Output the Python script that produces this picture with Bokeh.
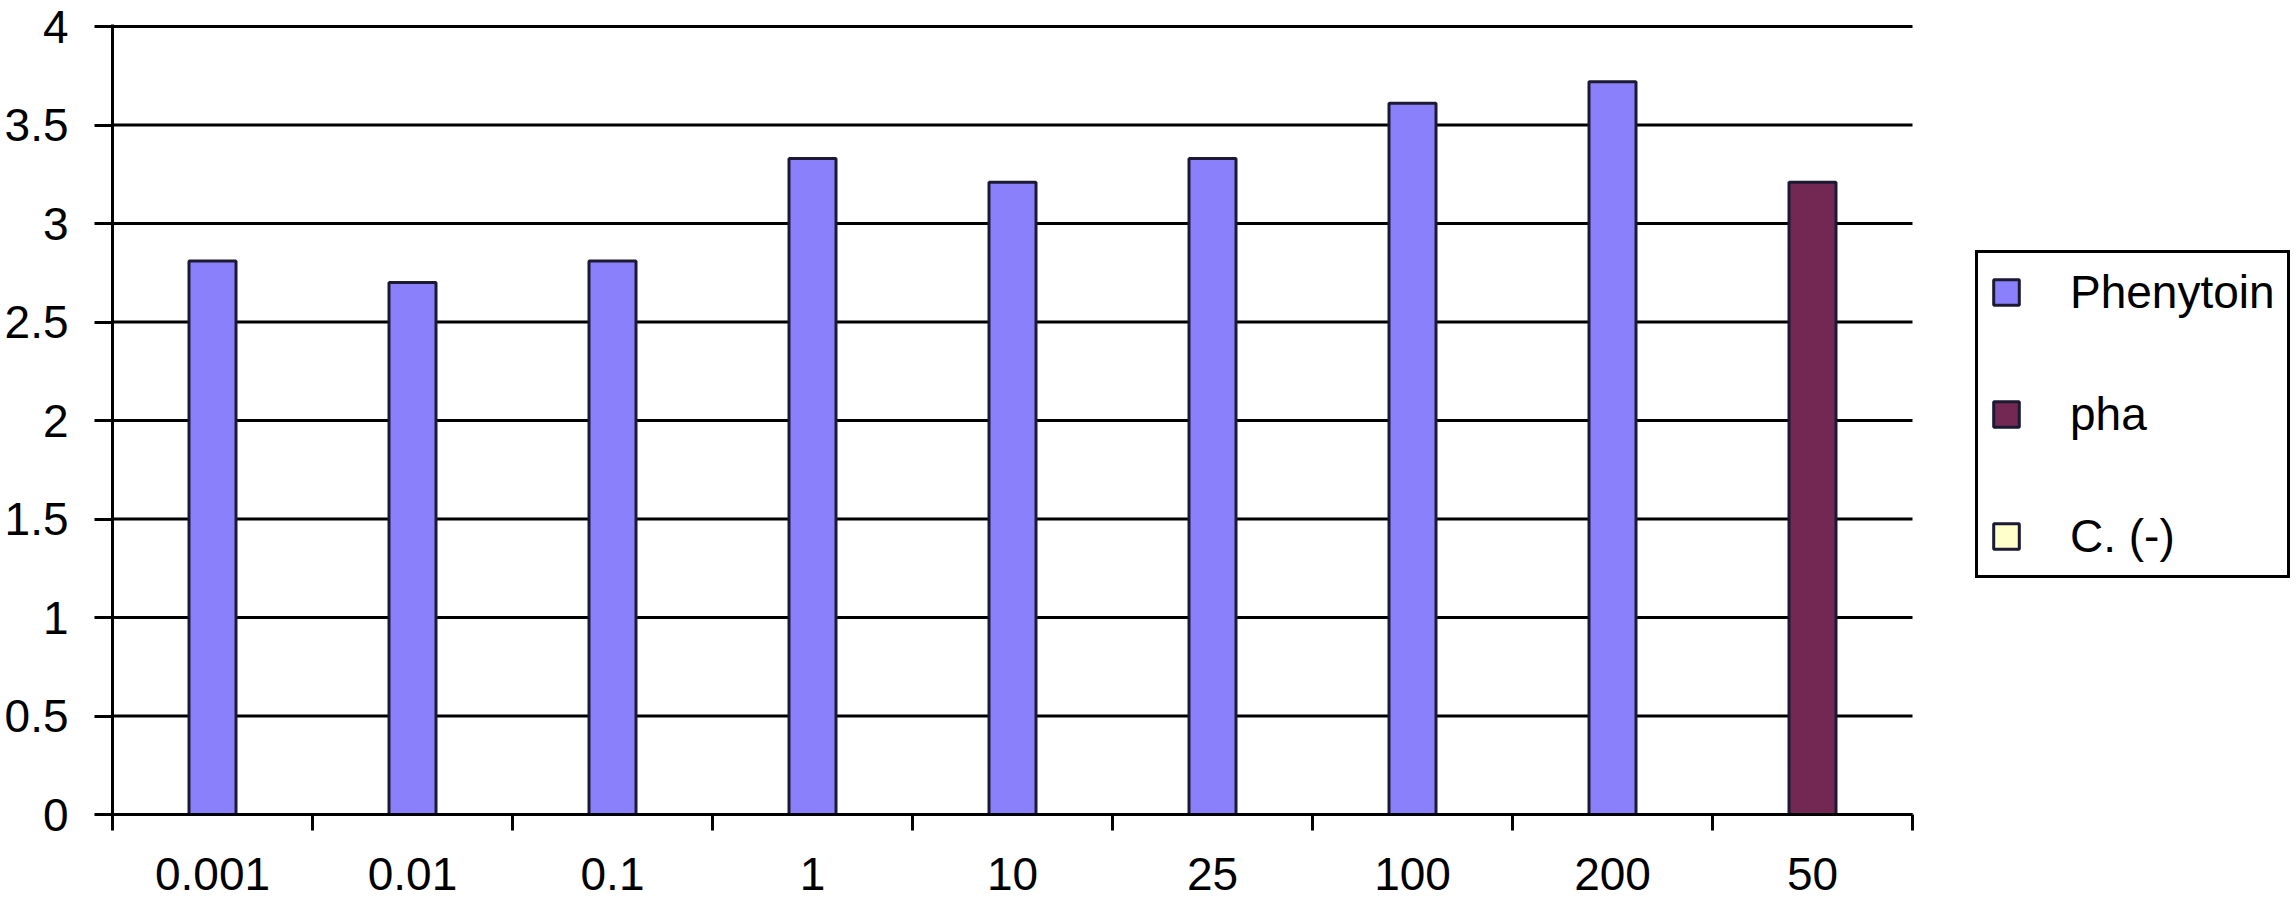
from bokeh.plotting import figure
from bokeh.models import Range1d, FixedTicker, Legend, LegendItem, ColumnDataSource
from bokeh.embed import file_html
from bokeh.resources import INLINE

categories = ["0.001", "0.01", "0.1", "1", "10", "25", "100", "200", "50"]
phenytoin = [2.81, 2.70, 2.81, 3.33, 3.21, 3.33, 3.61, 3.72]
pha = [3.21]
c_neg = [float("nan")]  # legend-only series, no visible bar
y_ticks = [0, 0.5, 1, 1.5, 2, 2.5, 3, 3.5, 4]
y_tick_labels = ["0", "0.5", "1", "1.5", "2", "2.5", "3", "3.5", "4"]

FONT = "Liberation Sans"
FS = "46px"

n = len(categories)
centers = [i + 0.5 for i in range(n)]

W, H = 2296, 904
left, top_b, bottom_b = 112, 24, 90
px_per_cat = 200.0
x_end = (W - left) / px_per_cat

p = figure(width=W, height=H, output_backend="svg", toolbar_location=None,
           x_range=Range1d(0, x_end), y_range=Range1d(0, 4.0102),
           min_border_left=left, min_border_right=0, min_border_top=top_b,
           min_border_bottom=bottom_b)
p.outline_line_color = None
p.background_fill_color = "white"
p.border_fill_color = "white"

# horizontal gridlines only across the category area
p.segment(x0=0, x1=n, y0=y_ticks, y1=y_ticks, line_color="black", line_width=3,
          level="underlay")

src_p = ColumnDataSource(dict(x=centers[:len(phenytoin)], top=phenytoin))
src_h = ColumnDataSource(dict(x=centers[len(phenytoin):len(phenytoin) + len(pha)], top=pha))
src_c = ColumnDataSource(dict(x=centers[-len(c_neg):], top=c_neg))

bw = 0.235
r1 = p.vbar(x="x", top="top", bottom=0, width=bw, source=src_p,
            fill_color="#8B80FB", line_color="#1C1A33", line_width=3)
r2 = p.vbar(x="x", top="top", bottom=0, width=bw, source=src_h,
            fill_color="#722853", line_color="#1C1A33", line_width=3)
r3 = p.vbar(x="x", top="top", bottom=0, width=bw, source=src_c,
            fill_color="#FFFFCC", line_color="#1C1A33", line_width=3)

# x axis: labels at category centres, boundary ticks as minor ticks
xa = p.xaxis[0]
xa.bounds = (0, n)
xa.ticker = FixedTicker(ticks=centers, minor_ticks=list(range(n + 1)))
xa.major_label_overrides = {c: lab for c, lab in zip(centers, categories)}
xa.major_tick_line_color = None
xa.major_tick_out = 0
xa.major_tick_in = 0
xa.minor_tick_line_color = "black"
xa.minor_tick_line_width = 3
xa.minor_tick_out = 16
xa.minor_tick_in = 0
xa.axis_line_color = "black"
xa.axis_line_width = 3
xa.major_label_standoff = 27
xa.major_label_text_font = FONT
xa.major_label_text_font_size = FS
xa.major_label_text_color = "black"

ya = p.yaxis[0]
ya.ticker = FixedTicker(ticks=y_ticks)
ya.major_label_overrides = {t: lab for t, lab in zip(y_ticks, y_tick_labels)}
ya.major_tick_line_color = "black"
ya.major_tick_line_width = 3
ya.major_tick_out = 18
ya.major_tick_in = 0
ya.minor_tick_line_color = None
ya.axis_line_color = "black"
ya.axis_line_width = 3
ya.major_label_standoff = 26
ya.major_label_text_font = FONT
ya.major_label_text_font_size = FS
ya.major_label_text_color = "black"

p.xgrid.grid_line_color = None
p.ygrid.grid_line_color = None

legend = Legend(items=[LegendItem(label="Phenytoin", renderers=[r1]),
                       LegendItem(label="pha", renderers=[r2]),
                       LegendItem(label="C. (-)", renderers=[r3])],
                location=(1975 - left, 236))
legend.margin = 0
legend.padding = 12
legend.spacing = 68
legend.glyph_width = 32
legend.glyph_height = 32
legend.label_standoff = 48
legend.label_text_font = FONT
legend.label_text_font_size = FS
legend.label_text_color = "black"
legend.border_line_color = "black"
legend.border_line_alpha = 1
legend.border_line_width = 3
legend.background_fill_color = "white"
legend.background_fill_alpha = 1
p.add_layout(legend, "center")

open("out.html", "w").write(file_html(p, INLINE))
